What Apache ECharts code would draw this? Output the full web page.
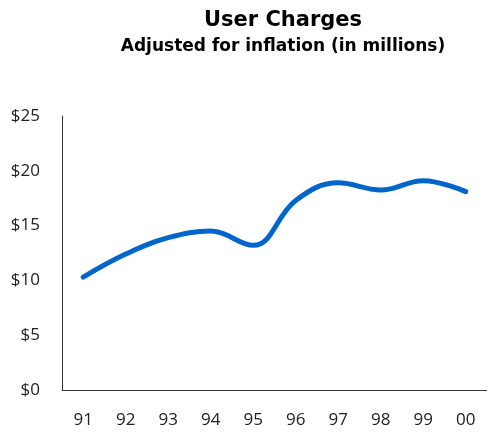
<!DOCTYPE html>
<html>
<head>
<meta charset="utf-8">
<style>
  html, body { margin: 0; padding: 0; background: #fff; }
  #main { width: 487px; height: 436px; }
</style>
<script src="https://cdn.jsdelivr.net/npm/echarts@6/dist/echarts.min.js"></script>
</head>
<body>
<div id="main"></div>
<script>
// data
var years = ["91", "92", "93", "94", "95", "96", "97", "98", "99", "00"];
var charges = [10.3, 12.4, 13.9, 14.5, 13.2, 17.3, 18.9, 18.25, 19.1, 18.1];

var font = "'Open Sans', Lato, sans-serif";
var titleFont = "'DejaVu Sans', 'Open Sans', sans-serif";
var myChart = echarts.init(document.getElementById("main"));
myChart.setOption({
  animation: false,
  title: {
    text: "User Charges",
    subtext: "Adjusted for inflation (in millions)",
    left: 278,
    textAlign: "center",
    top: 5,
    itemGap: 7,
    textStyle: { fontFamily: titleFont, fontSize: 21, fontWeight: "bold", color: "#000" },
    subtextStyle: { fontFamily: titleFont, fontSize: 17, fontWeight: "bold", color: "#000" }
  },
  grid: { left: 62, top: 116, width: 428, height: 274 },
  xAxis: {
    type: "category",
    data: years,
    boundaryGap: true,
    axisLine: { lineStyle: { color: "#333", width: 1 } },
    axisTick: { show: false },
    axisLabel: { fontFamily: font, fontSize: 17, color: "#222", margin: 22 }
  },
  yAxis: {
    type: "value",
    min: 0,
    max: 25,
    interval: 5,
    axisLine: { show: true, lineStyle: { color: "#333", width: 1 } },
    axisTick: { show: false },
    splitLine: { show: false },
    axisLabel: { fontFamily: font, fontSize: 17, color: "#222", margin: 22, formatter: "${value}" }
  },
  series: [{
    type: "line",
    data: charges,
    smooth: 0.4,
    symbol: "none",
    lineStyle: { color: "#0066cc", width: 5, cap: "round" }
  }]
});
</script>
</body>
</html>
